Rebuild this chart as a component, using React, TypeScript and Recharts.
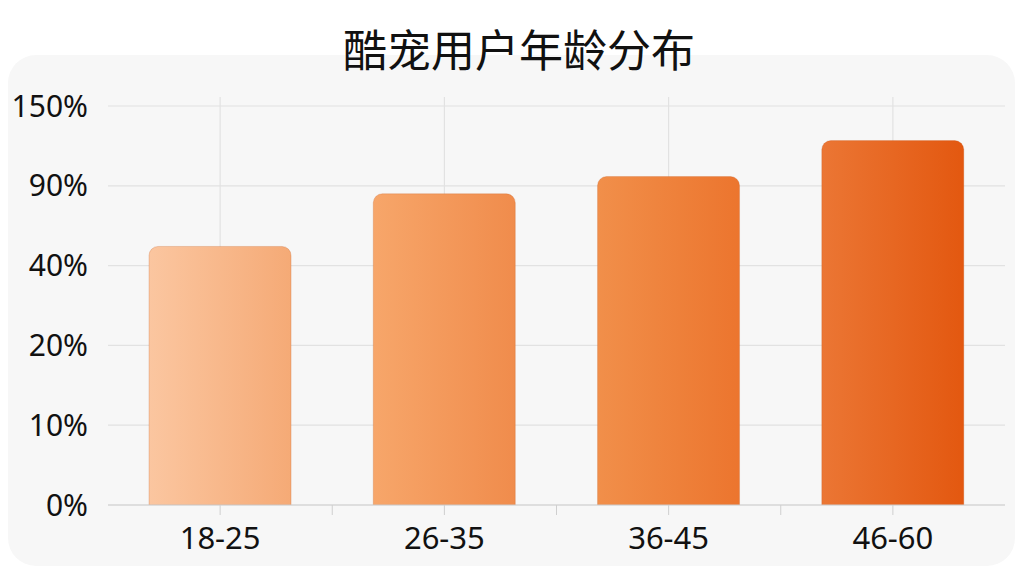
import React from "react";
import { BarChart, Bar, XAxis, YAxis, CartesianGrid, Cell } from "recharts";

const ageGroups = ["18-25", "26-35", "36-45", "46-60"];
const shareValues = [52, 85, 97, 124];
const yTickValues = [0, 10, 20, 40, 90, 150];
const yTickLabels = ["0%", "10%", "20%", "40%", "90%", "150%"];
const title = "酷宠用户年龄分布";

const barGradients = [
  ["#FBC6A0", "#F5AA76"],
  ["#F7A66A", "#F08C4C"],
  ["#F18F4A", "#EC752E"],
  ["#EB7634", "#E35810"],
];

const data = ageGroups.map((g, i) => ({ group: g, share: shareValues[i] }));
const tickIndexes = yTickValues.map((_, i) => i);

// piecewise-linear position on the (equally spaced) tick ladder
function toIndex(v: number): number {
  for (let i = 1; i < yTickValues.length; i++) {
    const lo = yTickValues[i - 1];
    const hi = yTickValues[i];
    if (v <= hi) return i - 1 + (v - lo) / (hi - lo);
  }
  const n = yTickValues.length - 1;
  return n + (v - yTickValues[n]) / (yTickValues[n] - yTickValues[n - 1]);
}

const numFont = "'Noto Sans', 'Open Sans', sans-serif";

const XTick = (props: any) => {
  const { x, y, payload, index, width, visibleTicksCount } = props;
  const count = visibleTicksCount || ageGroups.length;
  const band = width ? width / count : 224;
  const showBoundary = index < count - 1;
  return (
    <g>
      {showBoundary && (
        <line
          x1={x + band / 2}
          x2={x + band / 2}
          y1={505}
          y2={515}
          stroke="#cfcfcf"
          strokeWidth={1}
        />
      )}
      <text
        x={x}
        y={y + 32}
        textAnchor="middle"
        fill="#111"
        fontSize={31}
        fontFamily={numFont}
      >
        {payload.value}
      </text>
    </g>
  );
};

export default function App() {
  return (
    <div
      style={{
        position: "fixed",
        left: 0,
        top: 0,
        width: 1024,
        height: 576,
        background: "#ffffff",
        overflow: "hidden",
      }}
    >
      <div
        style={{
          position: "absolute",
          left: 8,
          top: 55,
          width: 1007,
          height: 511,
          background: "#f7f7f7",
          borderRadius: 28,
        }}
      />
      <div
        style={{
          position: "absolute",
          left: 0,
          top: 20,
          width: 1038,
          textAlign: "center",
          fontFamily: "'Noto Sans CJK SC', sans-serif",
          fontSize: 44,
          fontWeight: 400,
          lineHeight: "56px",
          color: "#111",
        }}
      >
        {title}
      </div>
      <div style={{ position: "absolute", left: 0, top: 0 }}>
        <BarChart
          width={1024}
          height={576}
          data={data}
          margin={{ top: 97, right: 19, bottom: 0, left: 0 }}
          barCategoryGap="18.3%"
        >
          <defs>
            {barGradients.map((c, i) => (
              <linearGradient key={i} id={`barGrad${i}`} x1="0" y1="0" x2="1" y2="0">
                <stop offset="0%" stopColor={c[0]} />
                <stop offset="100%" stopColor={c[1]} />
              </linearGradient>
            ))}
          </defs>
          <CartesianGrid
            stroke="#e2e2e2"
            strokeWidth={1.2}
            horizontalValues={tickIndexes}
            verticalValues={ageGroups}
          />
          <XAxis
            dataKey="group"
            height={71}
            tickSize={10}
            tickLine={{ stroke: "#cfcfcf" }}
            axisLine={{ stroke: "#cfcfcf", strokeWidth: 1.2 }}
            tick={<XTick />}
            interval={0}
          />
          <YAxis
            type="number"
            width={108}
            domain={[0, 5.113]}
            ticks={tickIndexes}
            tickFormatter={(i: number) => yTickLabels[i]}
            axisLine={false}
            tickLine={false}
            tickSize={0}
            tickMargin={20}
            tick={{ fill: "#111", fontSize: 30, fontFamily: numFont }}
            allowDataOverflow
          />
          <Bar
            dataKey={(d: any) => toIndex(d.share)}
            radius={[9, 9, 0, 0]}
            stroke="rgba(200,90,30,0.25)"
            strokeWidth={1}
            isAnimationActive={false}
          >
            {data.map((_, i) => (
              <Cell key={i} fill={`url(#barGrad${i})`} />
            ))}
          </Bar>
        </BarChart>
      </div>
    </div>
  );
}
